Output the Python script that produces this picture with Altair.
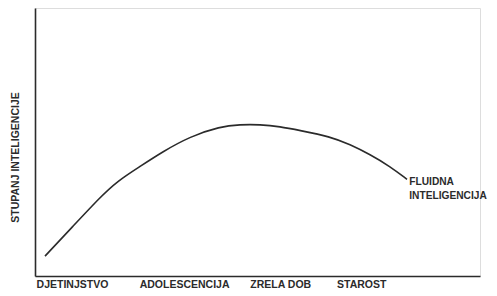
import altair as alt
import pandas as pd

# Curve of fluid intelligence (age position 0-100, level 0-100)
age = [2.25, 8.54, 14.61, 18.43, 23.60, 28.76, 34.83, 41.57, 46.07,
       50.56, 55.06, 59.55, 66.29, 70.79, 75.28, 79.78, 83.60]
level = [7.43, 18.59, 29.37, 35.32, 40.89, 46.47, 52.04, 55.76, 56.51,
         56.51, 55.76, 54.28, 52.04, 49.07, 45.35, 40.89, 36.06]

# Life stages on the x axis
stages = ["DJETINJSTVO", "ADOLESCENCIJA", "ZRELA DOB", "STAROST"]
stage_pos = [8.3, 33.5, 55.1, 73.3]

curve_label = ["FLUIDNA", "INTELIGENCIJA"]
curve_label_pos = (84.1, 35.0)

FONT = "Liberation Sans"
INK = "#2b2b2b"

curve_df = pd.DataFrame({"age": age, "level": level})
label_expr = " : ".join(
    f"datum.value == {p} ? '{s}'" for p, s in zip(stage_pos, stages)
) + " : ''"

x_scale = alt.Scale(domain=[0, 100], nice=False, zero=False)
y_scale = alt.Scale(domain=[0, 100], nice=False, zero=False)

x_enc = alt.X(
    "age:Q",
    scale=x_scale,
    axis=alt.Axis(
        values=stage_pos,
        labelExpr=label_expr,
        ticks=False,
        grid=False,
        title=None,
        domainColor=INK,
        domainWidth=1.6,
        labelFont=FONT,
        labelFontSize=10.5,
        labelFontWeight="bold",
        labelColor=INK,
        labelPadding=3,
        labelFlush=False,
        labelOverlap=False,
    ),
)
y_enc = alt.Y(
    "level:Q",
    scale=y_scale,
    axis=alt.Axis(
        ticks=False,
        labels=False,
        grid=False,
        title="STUPANJ INTELIGENCIJE",
        titleFont=FONT,
        titleFontSize=10.5,
        titleFontWeight="bold",
        titleColor=INK,
        titlePadding=15,
        titleY=149,
        domainColor=INK,
        domainWidth=1.6,
    ),
)

line = alt.Chart(curve_df).mark_line(
    interpolate="basis", color=INK, strokeWidth=1.6
).encode(x=x_enc, y=y_enc)

lab_df = pd.DataFrame(
    {"age": [curve_label_pos[0]], "level": [curve_label_pos[1]], "t": ["\n".join(curve_label)]}
)
label = alt.Chart(lab_df).mark_text(
    align="left",
    baseline="middle",
    font=FONT,
    fontSize=10.2,
    fontWeight="bold",
    color=INK,
    lineBreak="\n",
    lineHeight=14,
).encode(
    x=alt.X("age:Q", scale=x_scale),
    y=alt.Y("level:Q", scale=y_scale),
    text="t:N",
)

chart = (
    alt.layer(line, label)
    .properties(
        width=445,
        height=268,
        autosize=alt.AutoSizeParams(type="none"),
        padding={"left": 27, "top": 0, "right": 9, "bottom": 12},
    )
    .configure_view(stroke=None)
    .configure(background="white")
)

chart.save("out.html", embed_options={"renderer": "svg", "actions": False})
